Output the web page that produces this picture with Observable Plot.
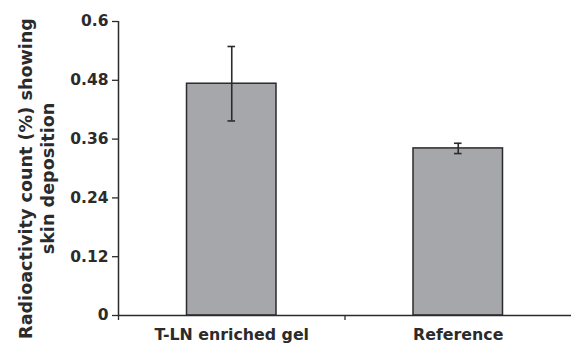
<!DOCTYPE html>
<html>
<head>
<meta charset="utf-8">
<script src="https://cdn.jsdelivr.net/npm/d3@7"></script>
<script src="https://cdn.jsdelivr.net/npm/@observablehq/plot@0.6"></script>
<style>
  html, body { margin: 0; padding: 0; background: #fff; }
  #chart svg { display: block; }
</style>
</head>
<body>
<div id="chart"></div>
<script>
const categories = ["T-LN enriched gel", "Reference"];
const values = [0.473, 0.341];
const errors = [0.076, 0.0105];
const yTicks = [0, 0.12, 0.24, 0.36, 0.48, 0.6];
const yTitleLines = ["Radioactivity count (%) showing", "skin deposition"];

const data = categories.map((c, i) => ({
  cat: c, i, v: values[i], lo: values[i] - errors[i], hi: values[i] + errors[i]
}));

const font = "DejaVu Sans, Liberation Sans, Arial, sans-serif";
const ink = "#2b2b2b";

const chart = Plot.plot({
  width: 571,
  height: 348,
  marginLeft: 118,
  marginRight: 0,
  marginTop: 21,
  marginBottom: 33,
  style: { fontFamily: font, background: "#fff", overflow: "visible" },
  x: { domain: [0, categories.length], axis: null },
  y: { domain: [0, 0.6], axis: null },
  marks: [
    Plot.rectY(data, {
      x1: d => d.i, x2: d => d.i + 1, y: "v",
      insetLeft: 68.5, insetRight: 68.5,
      fill: "#a6a7aa", stroke: ink, strokeWidth: 1.5
    }),
    Plot.ruleX(data, { x: d => d.i + 0.5, y1: "lo", y2: "hi", stroke: ink, strokeWidth: 1.6 }),
    Plot.ruleY(data, { y: "hi", x1: d => d.i + 0.5, x2: d => d.i + 0.5, insetLeft: -3.8, insetRight: -3.8, stroke: ink, strokeWidth: 1.6 }),
    Plot.ruleY(data, { y: "lo", x1: d => d.i + 0.5, x2: d => d.i + 0.5, insetLeft: -3.8, insetRight: -3.8, stroke: ink, strokeWidth: 1.6 }),
    Plot.ruleX([0], { stroke: ink, strokeWidth: 1.5 }),
    Plot.ruleY([0], { stroke: ink, strokeWidth: 1.5 }),
    Plot.axisY({
      ticks: yTicks, tickSize: 6, tickPadding: 4, tickFormat: d3.format(""),
      fontSize: 15.5, fontWeight: "bold", fill: ink, stroke: ink, strokeWidth: 1.3, label: null
    }),
    Plot.axisX({
      ticks: [0, 1], tickSize: 5, tickFormat: () => "", stroke: ink, strokeWidth: 1.3, label: null
    }),
    Plot.text(data, {
      x: d => d.i + 0.5, text: "cat", frameAnchor: "bottom", dy: 24,
      fontSize: 15.8, fontWeight: "bold", fill: ink
    }),
    Plot.text([yTitleLines[0]], {
      text: d => d, frameAnchor: "left", textAnchor: "middle", lineAnchor: "middle",
      rotate: -90, dx: -92, dy: 10,
      fontSize: 17.6, fontWeight: "bold", fill: ink
    }),
    Plot.text([yTitleLines[1]], {
      text: d => d, frameAnchor: "left", textAnchor: "middle", lineAnchor: "middle",
      rotate: -90, dx: -70, dy: 10,
      fontSize: 17.6, fontWeight: "bold", fill: ink
    })
  ]
});
document.getElementById("chart").appendChild(chart);
</script>
</body>
</html>
